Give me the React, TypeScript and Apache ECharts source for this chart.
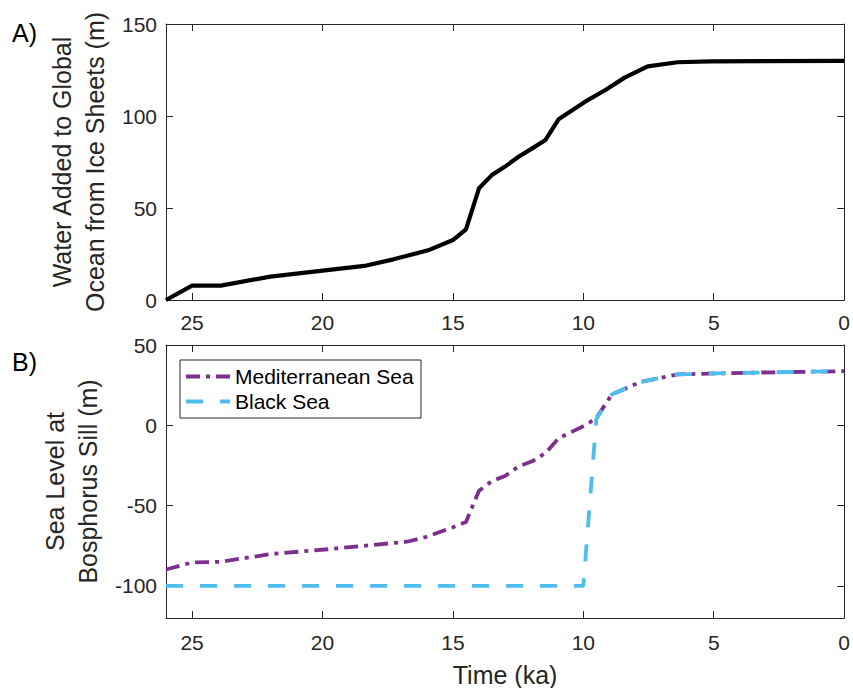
import React, { useEffect, useRef } from "react";
import * as echarts from "echarts";

// Panel A: water added to global ocean from ice sheets
const ageA = [26, 25, 23.9, 22, 18.4, 17.28, 15.95, 15.0, 14.5, 14.0, 13.5, 13.0, 12.47, 11.96, 11.45, 10.95, 9.93, 9.17, 8.4, 7.53, 6.39, 5.12, 0];
const waterA = [0, 7.8, 7.8, 12.7, 18.5, 22.1, 27, 32.6, 38.4, 60.7, 68, 72.5, 78, 82.4, 87, 98.2, 107.8, 114, 121, 127, 129.2, 129.7, 130];

// Panel B: sea level at Bosphorus sill
const ageMed = [26, 25, 23.9, 22, 19.8, 16.77, 16.0, 15.0, 14.5, 14.0, 13.5, 13.0, 12.47, 11.96, 11.45, 10.95, 9.93, 9.5, 8.9, 7.8, 6.39, 3.85, 0];
const medSea = [-89.8, -85.4, -85, -80.2, -77.2, -72.5, -69.4, -63.5, -60.2, -40.8, -34.7, -31.6, -25.5, -22.4, -17.3, -8.1, 0, 4.5, 19.4, 27, 31.7, 32.7, 33.7];
const ageBlack = [26, 10.0, 9.5, 8.9, 7.8, 6.39, 3.85, 0];
const blackSea = [-100, -100, 4, 19.4, 27, 31.7, 32.7, 33.7];

const xTicks = [0, 5, 10, 15, 20, 25];
const yTicksA = [0, 50, 100, 150];
const yTicksB = [-100, -50, 0, 50];

const FONT = "Liberation Sans, Arial, Helvetica, sans-serif";
const AX = "#262626";
const PURPLE = "#7E2F8E";
const BLUE = "#4DBEEE";

function pairs(xs: number[], ys: number[]) {
  return xs.map((x, i) => [x, ys[i]]);
}

export default function App() {
  const ref = useRef<HTMLDivElement>(null);
  useEffect(() => {
    if (!ref.current) return;
    const chart = echarts.init(ref.current, null, { renderer: "svg" });
    const axisLine = { show: true, onZero: false, lineStyle: { color: AX, width: 1 } };
    const tick = (vals: number[]) => ({
      show: true,
      inside: true,
      length: 7,
      customValues: vals,
      lineStyle: { color: AX, width: 1 },
    });
    const xMain = (grid: number, margin: number, name?: string) => ({
      type: "value",
      gridIndex: grid,
      min: 0,
      max: 26,
      inverse: true,
      position: "bottom",
      axisLine,
      axisTick: tick(xTicks),
      splitLine: { show: false },
      axisLabel: {
        customValues: xTicks,
        showMinLabel: true,
        showMaxLabel: true,
        hideOverlap: false,
        color: AX,
        fontSize: 21,
        fontFamily: FONT,
        margin,
      },
      name: name || "",
      nameLocation: "middle",
      nameGap: 44,
      nameTextStyle: { color: AX, fontSize: 25, fontFamily: FONT },
    });
    const xTop = (grid: number) => ({
      type: "value",
      gridIndex: grid,
      min: 0,
      max: 26,
      inverse: true,
      position: "top",
      axisLine,
      axisTick: tick(xTicks),
      splitLine: { show: false },
      axisLabel: { show: false },
    });
    const yMain = (grid: number, min: number, max: number, vals: number[], name: string, gap: number) => ({
      type: "value",
      gridIndex: grid,
      min,
      max,
      position: "left",
      axisLine,
      axisTick: tick(vals),
      splitLine: { show: false },
      axisLabel: {
        customValues: vals,
        showMinLabel: true,
        showMaxLabel: true,
        color: AX,
        fontSize: 21,
        fontFamily: FONT,
        margin: 9,
      },
      name,
      nameLocation: "middle",
      nameGap: gap,
      nameTextStyle: { color: AX, fontSize: 25, fontFamily: FONT, lineHeight: 33 },
    });
    const yRight = (grid: number, min: number, max: number, vals: number[]) => ({
      type: "value",
      gridIndex: grid,
      min,
      max,
      position: "right",
      axisLine,
      axisTick: tick(vals),
      splitLine: { show: false },
      axisLabel: { show: false },
    });

    const legendX = 180;
    const legendY = 360;
    chart.setOption({
      animation: false,
      backgroundColor: "#ffffff",
      grid: [
        { left: 166, top: 24, width: 682, height: 276 },
        { left: 166, top: 345, width: 682, height: 277 },
      ],
      xAxis: [xMain(0, 12), xTop(0), xMain(1, 14, "Time (ka)"), xTop(1)],
      yAxis: [
        yMain(0, 0, 150, yTicksA, "Water Added to Global\nOcean from Ice Sheets (m)", 54),
        yRight(0, 0, 150, yTicksA),
        yMain(1, -120, 50, yTicksB, "Sea Level at\nBosphorus Sill (m)", 60),
        yRight(1, -120, 50, yTicksB),
      ],
      series: [
        {
          name: "Water Added",
          type: "line",
          xAxisIndex: 0,
          yAxisIndex: 0,
          data: pairs(ageA, waterA),
          showSymbol: false,
          symbol: "none",
          lineStyle: { color: "#000000", width: 4.2, join: "round" },
        },
        {
          name: "Mediterranean Sea",
          type: "line",
          xAxisIndex: 2,
          yAxisIndex: 2,
          data: pairs(ageMed, medSea),
          showSymbol: false,
          symbol: "none",
          lineStyle: { color: PURPLE, width: 3.8, type: [14, 6, 4, 6] },
        },
        {
          name: "Black Sea",
          type: "line",
          xAxisIndex: 2,
          yAxisIndex: 2,
          data: pairs(ageBlack, blackSea),
          showSymbol: false,
          symbol: "none",
          lineStyle: { color: BLUE, width: 3.8, type: [17, 17] },
        },
      ],
      graphic: [
        {
          type: "text",
          left: 12,
          top: 20,
          style: { text: "A)", fontSize: 25, fontFamily: FONT, fill: "#000" },
        },
        {
          type: "text",
          left: 12,
          top: 349,
          style: { text: "B)", fontSize: 25, fontFamily: FONT, fill: "#000" },
        },
        {
          type: "rect",
          shape: { x: legendX, y: legendY, width: 241, height: 58 },
          style: { fill: "#ffffff", stroke: AX, lineWidth: 1 },
          z: 100,
        },
        {
          type: "line",
          shape: { x1: 186, y1: 376.5, x2: 230, y2: 376.5 },
          style: { stroke: PURPLE, lineWidth: 3.8, lineDash: [14, 6, 4, 6] },
          z: 101,
        },
        {
          type: "line",
          shape: { x1: 186, y1: 401.5, x2: 230, y2: 401.5 },
          style: { stroke: BLUE, lineWidth: 3.8, lineDash: [17, 17] },
          z: 101,
        },
        {
          type: "text",
          x: 235,
          y: 376.5,
          style: { text: "Mediterranean Sea", fontSize: 21, fontFamily: FONT, fill: "#000", verticalAlign: "middle" },
          z: 101,
        },
        {
          type: "text",
          x: 235,
          y: 401.5,
          style: { text: "Black Sea", fontSize: 21, fontFamily: FONT, fill: "#000", verticalAlign: "middle" },
          z: 101,
        },
      ],
    });
    return () => chart.dispose();
  }, []);
  return (
    <div
      ref={ref}
      style={{ position: "fixed", left: 0, top: 0, width: 853, height: 688 }}
    />
  );
}
